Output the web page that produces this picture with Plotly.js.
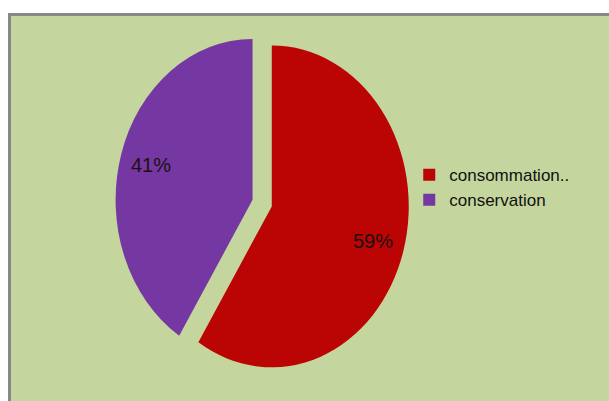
<!DOCTYPE html>
<html>
<head>
<meta charset="utf-8">
<script src="https://cdn.plot.ly/plotly-3.0.1.min.js"></script>
<style>
  html, body { margin: 0; padding: 0; background: #ffffff; }
  #chart { width: 609px; height: 401px; }
</style>
</head>
<body>
<div id="chart"></div>
<script>
// Data
const categories = ['consommation..', 'conservation'];
const values = [59, 41];
const sliceColors = ['#bb0404', '#7537a1'];

const W = 609, H = 401;
const pieDomainX = [0.189, 0.672];
const pieDomainY = [0.127, 0.860];
const stretchY = 1.175;
const pullFrac = 0.073;
const labelRadius = 0.77;

// label annotations placed from the slice geometry derived from the values
const total = values.reduce((a, b) => a + b, 0);
const cx0 = (pieDomainX[0] + pieDomainX[1]) / 2 * W;
const cy0 = (1 - (pieDomainY[0] + pieDomainY[1]) / 2) * H;
const maxR = Math.min((pieDomainX[1] - pieDomainX[0]) * W, (pieDomainY[1] - pieDomainY[0]) * H) / 2;
const r = maxR / (1 + pullFrac);
const annotations = [];
let cum = 0;
values.forEach(function (v, i) {
  const mid = (cum + v / 2) / total * 2 * Math.PI;
  cum += v;
  const dx = Math.sin(mid), dy = -Math.cos(mid);
  const px = cx0 + (pullFrac + labelRadius) * r * dx;
  const py = cy0 + (pullFrac + labelRadius) * r * dy * stretchY;
  annotations.push({
    xref: 'paper', yref: 'paper',
    x: px / W, y: 1 - py / H,
    xanchor: 'center', yanchor: 'middle',
    showarrow: false,
    text: Math.round(v / total * 100) + '%',
    font: { family: 'Liberation Sans, Arial, sans-serif', size: 20, color: '#1c1010' }
  });
});

const trace = {
  type: 'pie',
  labels: categories,
  values: values,
  sort: false,
  direction: 'clockwise',
  rotation: 0,
  pull: values.map(() => pullFrac),
  marker: { colors: sliceColors, line: { width: 0 } },
  textinfo: 'none',
  hoverinfo: 'label+percent',
  domain: { x: pieDomainX, y: pieDomainY }
};

const layout = {
  width: W,
  height: H,
  margin: { l: 0, r: 0, t: 0, b: 0 },
  paper_bgcolor: '#ffffff',
  showlegend: true,
  legend: {
    x: 0.672, xanchor: 'left',
    y: 0.532, yanchor: 'middle',
    bgcolor: 'rgba(0,0,0,0)',
    borderwidth: 0,
    font: { family: 'Liberation Sans, Arial, sans-serif', size: 17, color: '#111111' },
    itemwidth: 30,
    tracegroupgap: 0
  },
  annotations: annotations,
  shapes: [{
    type: 'rect', xref: 'paper', yref: 'paper', layer: 'below',
    x0: 9.5 / W, x1: 1.02, y0: -0.02, y1: 1 - 14.5 / H,
    fillcolor: '#c4d69e',
    line: { color: '#888888', width: 3 }
  }]
};

Plotly.newPlot('chart', [trace], layout, { displayModeBar: false, staticPlot: true }).then(function () {
  const g = document.querySelector('.pielayer');
  if (g) {
    g.setAttribute('transform', 'translate(0,' + cy0 + ') scale(1,' + stretchY + ') translate(0,' + (-cy0) + ')');
  }
});
</script>
</body>
</html>
